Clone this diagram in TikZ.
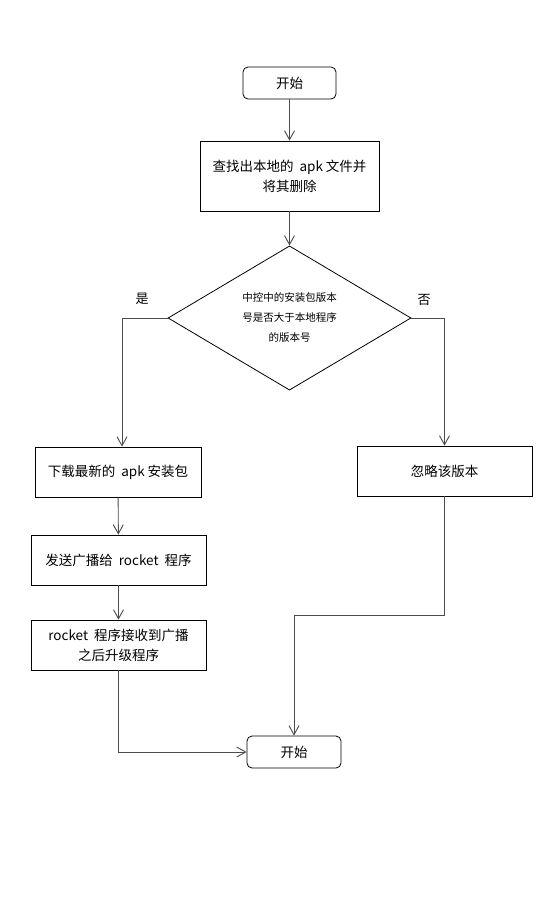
\documentclass[tikz,border=0pt]{standalone}
\usepackage{fontspec}
\setmainfont{Noto Sans CJK SC}
\usetikzlibrary{shapes.geometric, arrows.meta}

\tikzset{
  stepbox/.style={draw, line width=0.8pt, minimum height=50pt, align=center, font=\fontsize{13.5}{20}\selectfont},
  endbox/.style={draw, line width=0.8pt, rounded corners=5pt, minimum width=93pt, minimum height=32pt, font=\fontsize{13.5}{16}\selectfont},
  flow/.style={draw=black!70, line width=0.9pt, -{Straight Barb[length=9pt,width=10pt]}},
}

\begin{document}
\begin{tikzpicture}[x=1pt,y=-1pt]
            \useasboundingbox (0,0) rectangle (554,903);
            \node[endbox] (start) at (289.5,83) {开始};
            \node[stepbox, minimum width=179pt, minimum height=70pt] (find) at (289.5,176) {查找出本地的\ \ apk 文件并\\将其删除};
            \node[draw, diamond, line width=0.8pt, minimum width=243pt, minimum height=137pt, inner sep=0pt, align=center, font=\fontsize{10.5}{20}\selectfont] (cmp) at (289.5,318) {中控中的安装包版本\\号是否大于本地程序\\的版本号};
            \node[font=\fontsize{13}{15}\selectfont] (yes) at (142,299) {是};
            \node[font=\fontsize{13}{15}\selectfont] (no) at (424,300) {否};

            \node[stepbox, minimum width=166pt] (load) at (118,472) {下载最新的\ \ apk 安装包};
            \node[stepbox, minimum width=175pt] (send) at (118.5,560) {发送广播给\ \ rocket\ \ 程序};
            \node[stepbox, minimum width=175pt] (recv) at (118.5,645) {rocket\ \ 程序接收到广播\\之后升级程序};
            \node[stepbox, minimum width=175pt] (skip) at (444.5,471) {忽略该版本};
            \node[endbox, minimum width=94pt] (stop) at (294,752) {开始};

            \draw[flow] (start) -- (find);
            \draw[flow] (find) -- (cmp);
            \draw[flow] (cmp.west) -| ([xshift=4pt]load.north);
            \draw[flow] (cmp.east) -| (skip.north);
            \draw[flow] (load) -- (send);
            \draw[flow] (send) -- (recv);
            \draw[flow] (recv.south) |- (stop.west);
            \draw[flow] (skip.south) -- ++(0,119) -| (stop.north);
        \end{tikzpicture}
\end{document}
